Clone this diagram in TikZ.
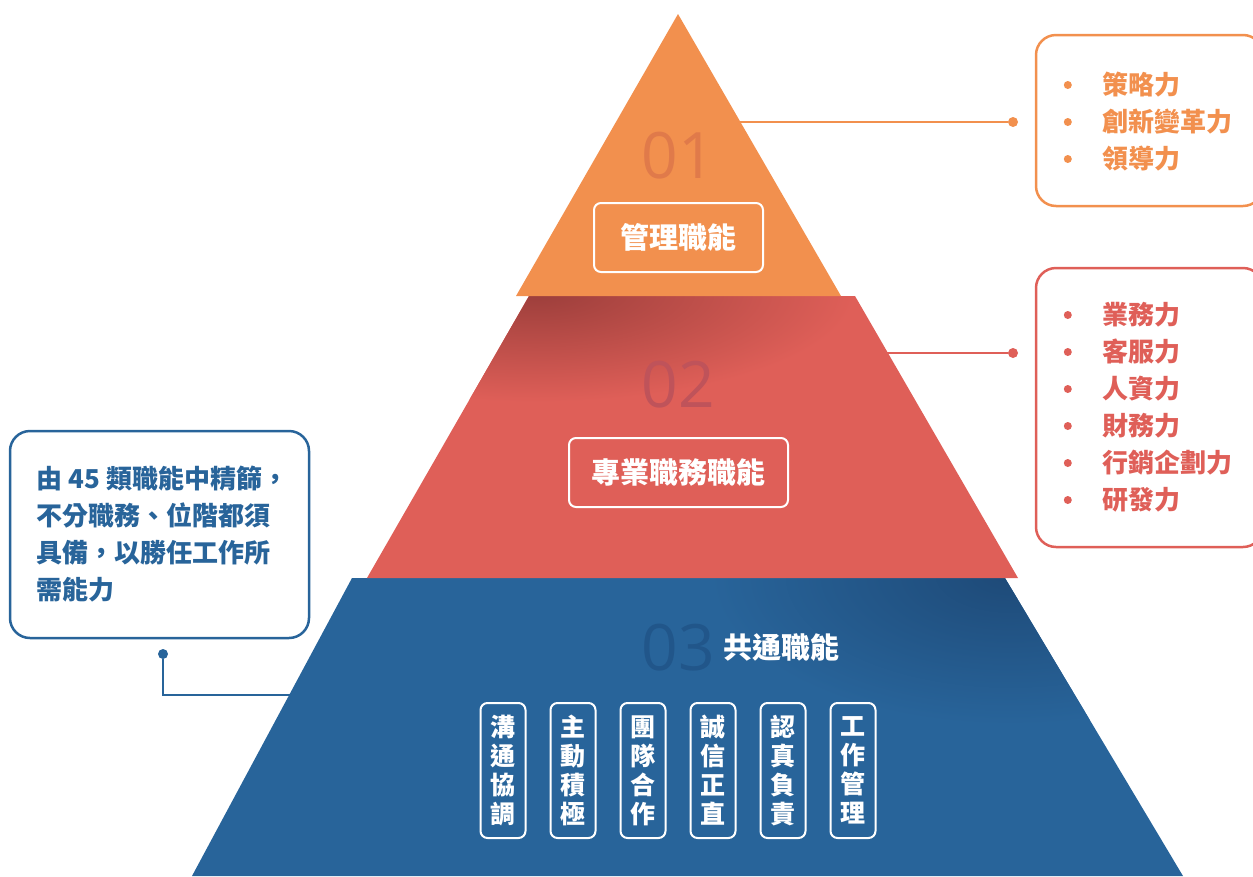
\documentclass[tikz,border=0pt]{standalone}
\usepackage{fontspec}
\setmainfont{Noto Sans CJK TC}
\newfontfamily\numfont{Open Sans}
\usepackage{tikz}
\usetikzlibrary{positioning,calc}
\definecolor{topc}{HTML}{F2904E}
\definecolor{topn}{HTML}{E07A4A}
\definecolor{midc}{HTML}{DF5F58}
\definecolor{midd}{HTML}{9C3E3B}
\definecolor{midn}{HTML}{BF535A}
\definecolor{lowc}{HTML}{28649A}
\definecolor{lowd}{HTML}{1E4A78}
\definecolor{lown}{HTML}{21568A}

\begin{document}
\begin{tikzpicture}[x=1pt,y=-1pt]
  \tikzstyle{num} = [inner sep=0pt,font=\numfont\fontsize{64}{64}\selectfont];
  \tikzset{
    lbl/.style={draw=white,line width=2pt,rounded corners=7pt,text=white,
      font=\fontsize{29}{29}\selectfont\bfseries},
    vbox/.style={draw=white,line width=2pt,rounded corners=7pt,minimum width=45pt,
      minimum height=135pt,inner sep=0pt,align=center,text=white,
      font=\fontsize{25}{29}\selectfont\bfseries},
    side/.style={draw=#1,line width=2.5pt,rounded corners=20pt},
    item/.style={anchor=west,inner sep=0pt,text=#1,font=\fontsize{26}{26}\selectfont\bfseries,
      label={[circle,fill=#1,inner sep=0pt,minimum size=8pt,xshift=-30pt]left:{}}},
    enddot/.style={circle,fill=#1,inner sep=0pt,minimum size=10pt},
    link/.style={draw=#1,line width=2.5pt}
  };
  \useasboundingbox (0,0) rectangle (1253,876);
  \clip (0,0) rectangle (1253,876);

  % pyramid
  \fill[lowc] (352,578) -- (1005,578) -- (1183,876) -- (192,876) -- cycle;
  \begin{scope}
    \clip (352,578) -- (1005,578) -- (1183,876) -- (192,876) -- cycle;
    \shade[inner color=lowd,outer color=lowc] (1010,575) ellipse [x radius=300,y radius=150];
  \end{scope}
  \fill[midc] (529,296) -- (855,296) -- (1018,578) -- (367,578) -- cycle;
  \begin{scope}
    \clip (529,296) -- (855,296) -- (1018,578) -- (367,578) -- cycle;
    \shade[inner color=midd,outer color=midc] (535,292) ellipse [x radius=320,y radius=110];
  \end{scope}
  \fill[topc] (678,14) -- (841,296) -- (516,296) -- cycle;

  % tiers
  \node[num,text=topn] (n1) at (678,156) {01};
  \node[lbl,minimum width=169pt,minimum height=69pt] (t1) at (678.5,237.5) {管理職能};
  \node[num,text=midn] (n2) at (678,385) {02};
  \node[lbl,minimum width=219pt,minimum height=69pt] (t2) at (678.5,472.5) {專業職務職能};
  \node[num,text=lown] (n3) at (678,648) {03};
  \node[right=8pt of n3,inner sep=0pt,text=white,font=\fontsize{29}{29}\selectfont\bfseries] (t3) {共通職能};

  \node[vbox] (v1) at (503,770.5) {溝\\通\\協\\調};
  \node[vbox,right=23pt of v1] (v2) {主\\動\\積\\極};
  \node[vbox,right=23pt of v2] (v3) {團\\隊\\合\\作};
  \node[vbox,right=23pt of v3] (v4) {誠\\信\\正\\直};
  \node[vbox,right=23pt of v4] (v5) {認\\真\\負\\責};
  \node[vbox,right=23pt of v5] (v6) {工\\作\\管\\理};

  % side boxes
  \node[side=topc,minimum width=227pt,minimum height=171pt] (b1) at (1149.5,120.5) {};
  \node[item=topc] (s1) at (1102,85) {策略力};
  \node[item=topc,below=37pt of s1.west,anchor=west] (s2) {創新變革力};
  \node[item=topc,below=37pt of s2.west,anchor=west] (s3) {領導力};

  \node[side=midc,minimum width=227pt,minimum height=279pt] (b2) at (1149.5,407.5) {};
  \node[item=midc] (p1) at (1102,315) {業務力};
  \node[item=midc,below=37pt of p1.west,anchor=west] (p2) {客服力};
  \node[item=midc,below=37pt of p2.west,anchor=west] (p3) {人資力};
  \node[item=midc,below=37pt of p3.west,anchor=west] (p4) {財務力};
  \node[item=midc,below=37pt of p4.west,anchor=west] (p5) {行銷企劃力};
  \node[item=midc,below=37pt of p5.west,anchor=west] (p6) {研發力};

  \node[side=lowc,minimum width=299pt,minimum height=207pt] (note) at (159.5,534.5) {};
  \node[anchor=west,align=left,inner sep=0pt,text=lowc,font=\fontsize{26}{37}\selectfont\bfseries]
    (notet) at ([xshift=28pt]note.west) {由 45 類職能中精篩，\\不分職務、位階都須\\具備，以勝任工作所\\需能力};

  % connectors
  \node[enddot=topc] (d1) at (1013,122) {};
  \coordinate (e1) at (740,122);
  \draw[link=topc] (e1) -- (d1);
  \node[enddot=midc] (d2) at (1013,353) {};
  \coordinate (e2) at (887,353);
  \draw[link=midc] (e2) -- (d2);
  \node[enddot=lowc] (d3) at (163,654) {};
  \coordinate (e3) at (295,695);
  \draw[link=lowc] (d3) |- (e3);
\end{tikzpicture}
\end{document}
